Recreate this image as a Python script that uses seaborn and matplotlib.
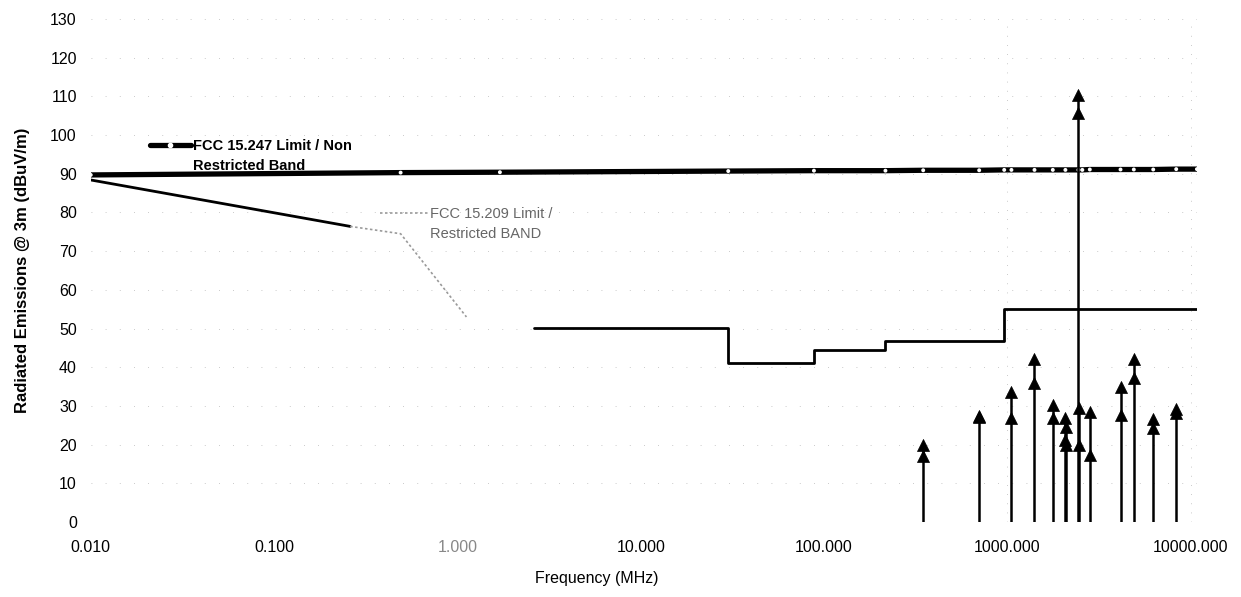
import numpy as np
import pandas as pd
import matplotlib
matplotlib.use("Agg")
import matplotlib.pyplot as plt
from matplotlib.lines import Line2D
from matplotlib.ticker import FixedLocator, FuncFormatter, NullLocator
import seaborn as sns

# FCC 15.247 limit (non-restricted band), evaluated at the test frequencies
lim247_freq = [0.01, 0.49, 1.705, 30, 88, 216, 347, 701, 960, 1051, 1404,
               1767, 2070, 2438, 2560, 2812, 4136, 4887, 6237, 8325, 10800]
lim247_level = [89.7, 90.3, 90.4, 90.7, 90.8, 90.8, 90.9, 90.9, 91.0, 91.0, 91.0,
                91.0, 91.0, 91.0, 91.0, 91.1, 91.1, 91.1, 91.1, 91.2, 91.2]

# FCC 15.209 limit (restricted band); segment 0 solid, 1 faint, 2 solid
lim209_freq = [0.01, 0.26, 0.26, 0.49, 1.12,
               2.6, 30, 30, 88, 88, 216, 216, 960, 960, 10800]
lim209_level = [88.4, 76.4, 76.4, 74.5, 53.0,
                50.1, 50.1, 41.0, 41.0, 44.4, 44.4, 46.8, 46.8, 55.0, 55.0]
lim209_seg = [0, 0, 1, 1, 1,
              2, 2, 2, 2, 2, 2, 2, 2, 2, 2]

# Measured emissions (MHz, peak and average dBuV/m)
em_freq = [347, 701, 1051, 1404, 1767, 2055, 2085, 2438, 2446, 2812, 4136, 4887, 6237, 8325]
em_peak = [19.9, 27.4, 33.5, 42.0, 30.2, 27.0, 24.6, 110.3, 29.4, 28.5, 35.0, 42.2, 26.5, 29.1]
em_avg = [17.1, 27.2, 26.8, 35.8, 27.0, 21.2, 19.9, 105.7, 19.9, 17.3, 27.6, 37.1, 24.2, 28.1]

x_ticks = [0.01, 0.1, 1, 10, 100, 1000, 10000]
y_ticks = list(range(0, 131, 10))

sns.set_theme(style="white")
plt.rcParams["font.family"] = ["Liberation Sans", "DejaVu Sans"]
plt.rcParams["text.color"] = "black"
plt.rcParams["axes.labelcolor"] = "black"

fig = plt.figure(figsize=(12.41, 5.97), dpi=100)
ax = fig.add_axes([0.0731, 0.1256, 0.8914, 0.8426])

ax.set_xscale("log")
ax.set_xlim(0.01, 10800)
ax.set_ylim(0, 130)

# sparse dotted grid
for y in y_ticks[1:]:
    ax.axhline(y, color="#b8b8b8", lw=0.6, ls=(0, (1, 16)), zorder=0)
for x in x_ticks[5:]:
    ax.axvline(x, color="#b8b8b8", lw=0.6, ls=(0, (1, 10)), zorder=0)

# 15.247 limit line
df247 = pd.DataFrame({"f": lim247_freq, "lvl": lim247_level})
sns.lineplot(data=df247, x="f", y="lvl", ax=ax, color="black", lw=3.8,
             estimator=None, sort=False, zorder=3)
sns.scatterplot(data=df247, x="f", y="lvl", ax=ax, color="white", s=8,
                edgecolor="none", zorder=4)

# 15.209 limit line
df209 = pd.DataFrame({"f": lim209_freq, "lvl": lim209_level, "seg": lim209_seg})
seg_style = {0: dict(color="black", lw=2.0, ls="-"),
             1: dict(color="#9a9a9a", lw=1.2, ls=(0, (1.5, 1.5))),
             2: dict(color="black", lw=2.0, ls="-")}
for seg, part in df209.groupby("seg"):
    sns.lineplot(data=part, x="f", y="lvl", ax=ax, estimator=None, sort=False,
                 zorder=3, **seg_style[seg])

# emission stems and markers
dfem = pd.DataFrame({"f": em_freq, "pk": em_peak, "av": em_avg})
ax.vlines(dfem["f"], 0, dfem[["pk", "av"]].max(axis=1), color="black", lw=1.8, zorder=5)
marks = pd.concat([dfem[["f", "pk"]].rename(columns={"pk": "lvl"}),
                   dfem[["f", "av"]].rename(columns={"av": "lvl"})])
sns.scatterplot(data=marks, x="f", y="lvl", ax=ax, marker="^", color="black",
                s=75, edgecolor="black", linewidth=0.5, zorder=6)

# axes styling
for sp in ax.spines.values():
    sp.set_visible(False)
ax.xaxis.set_major_locator(FixedLocator(x_ticks))
ax.xaxis.set_minor_locator(NullLocator())
ax.xaxis.set_major_formatter(FuncFormatter(lambda v, p: f"{v:.3f}"))
ax.set_yticks(y_ticks)
ax.tick_params(axis="both", length=0, labelsize=11.5, colors="black")
ax.tick_params(axis="x", pad=13)
ax.tick_params(axis="y", pad=10)
for lbl in ax.get_xticklabels():
    if lbl.get_text() == "1.000":
        lbl.set_color("#888888")

ax.set_xlabel("Frequency (MHz)", fontsize=11.5, color="black")
ax.xaxis.set_label_coords(0.457, -0.098)
ax.set_ylabel("Radiated Emissions @ 3m (dBuV/m)", fontsize=12, fontweight="bold",
              color="black")
ax.yaxis.set_label_coords(-0.055, 0.5)

# series labels
h247 = Line2D([], [], color="black", lw=3.8, marker="o", markersize=3.0,
              markerfacecolor="white", markeredgecolor="white")
blank = Line2D([], [], ls="none")
leg1 = ax.legend([h247, blank], ["FCC 15.247 Limit / Non", "Restricted Band"],
                 loc="upper left", bbox_to_anchor=(0.0536, 0.762), frameon=False,
                 handlelength=2.8, handletextpad=0.15, borderpad=0, borderaxespad=0,
                 labelspacing=0.45, prop={"size": 10.5, "weight": "bold"})
for t in leg1.get_texts():
    t.set_color("black")
ax.add_artist(leg1)

h209 = Line2D([], [], color="#9a9a9a", lw=1.2, ls=(0, (1.5, 1.5)))
leg2 = ax.legend([h209, blank], ["FCC 15.209 Limit /", "Restricted BAND"],
                 loc="upper left", bbox_to_anchor=(0.2615, 0.626), frameon=False,
                 handlelength=3.3, handletextpad=0.15, borderpad=0, borderaxespad=0,
                 labelspacing=0.4, prop={"size": 10.5})
for t in leg2.get_texts():
    t.set_color("#666666")

fig.savefig("out.png", dpi=100)
